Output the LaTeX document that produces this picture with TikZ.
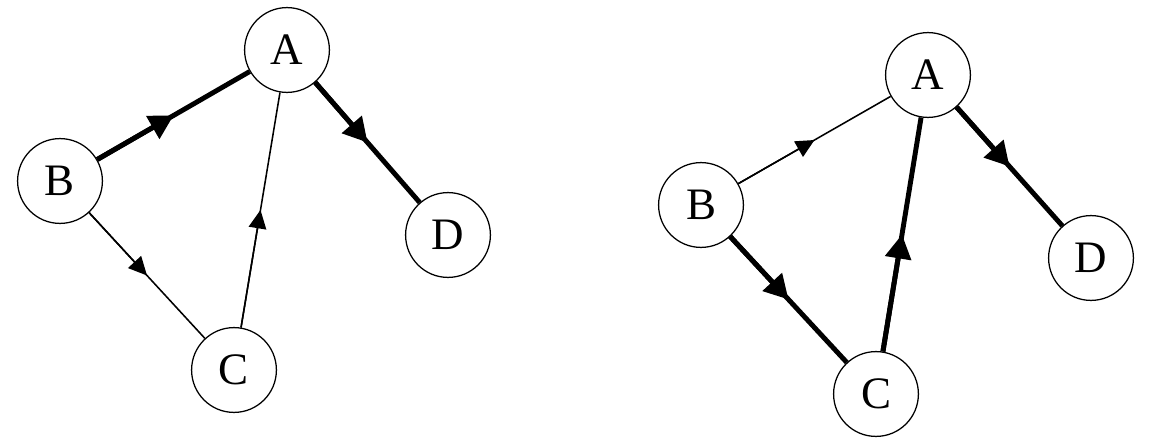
\documentclass[tikz,border=0pt]{standalone}
\usepackage{fontspec}
\setmainfont{Liberation Serif}
\usetikzlibrary{arrows.meta,calc}

\begin{document}
\begin{tikzpicture}[x=0.025cm,y=-0.025cm,>=Latex,
  vertice/.style={circle,draw,line width=0.9pt,minimum size=2.12cm,inner sep=0pt,
    font=\fontsize{32}{36}\selectfont},
  arcofino/.style={line width=1.1pt},
  arcogrueso/.style={line width=3.5pt},
  puntafina/.style={arcofino,-{Triangle[length=0.46cm,width=0.44cm]}},
  puntagruesa/.style={arcogrueso,-{Triangle[length=0.6cm,width=0.64cm]}}]
  \useasboundingbox (0,0) rectangle (1152,447);

  % primer grafo
  \node[vertice] (A1) at (287,50) {A};
  \node[vertice] (B1) at (60,181) {B};
  \node[vertice] (C1) at (234,370) {C};
  \node[vertice] (D1) at (448,235) {D};

  \draw[arcogrueso] (B1) -- (A1);
  \draw[puntagruesa] (B1) -- ($(B1)!.5!(A1)$);
  \draw[arcogrueso] (A1) -- (D1);
  \draw[puntagruesa] (A1) -- ($(A1)!.5!(D1)$);
  \draw[arcofino] (B1) -- (C1);
  \draw[puntafina] (B1) -- ($(B1)!.5!(C1)$);
  \draw[arcofino] (C1) -- (A1);
  \draw[puntafina] (C1) -- ($(C1)!.5!(A1)$);

  % segundo grafo
  \node[vertice] (A2) at (928,75) {A};
  \node[vertice] (B2) at (701,205) {B};
  \node[vertice] (C2) at (876,394) {C};
  \node[vertice] (D2) at (1091,258) {D};

  \draw[arcofino] (B2) -- (A2);
  \draw[puntafina] (B2) -- ($(B2)!.5!(A2)$);
  \draw[arcogrueso] (A2) -- (D2);
  \draw[puntagruesa] (A2) -- ($(A2)!.5!(D2)$);
  \draw[arcogrueso] (B2) -- (C2);
  \draw[puntagruesa] (B2) -- ($(B2)!.5!(C2)$);
  \draw[arcogrueso] (C2) -- (A2);
  \draw[puntagruesa] (C2) -- ($(C2)!.5!(A2)$);
\end{tikzpicture}
\end{document}
